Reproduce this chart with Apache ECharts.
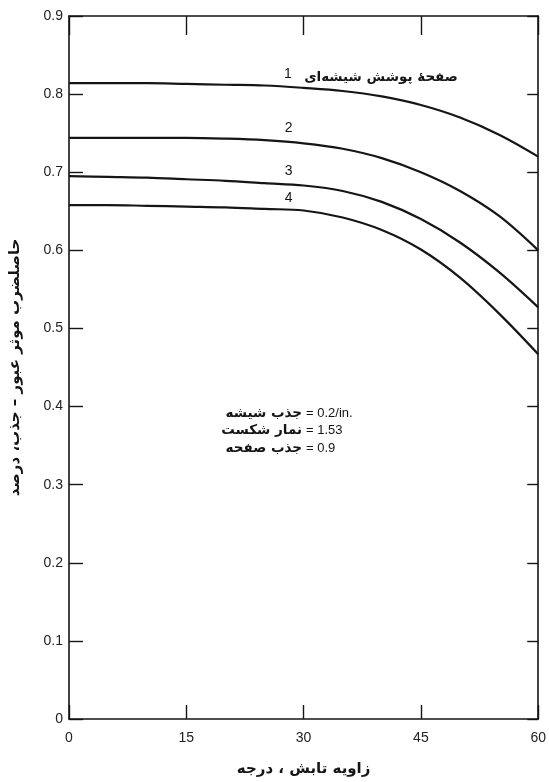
<!DOCTYPE html>
<html>
<head>
<meta charset="utf-8">
<script src="https://cdn.jsdelivr.net/npm/echarts@6/dist/echarts.min.js"></script>
<style>
html,body{margin:0;padding:0;background:#fff;}
#c{width:549px;height:782px;}
</style>
</head>
<body>
<div id="c"></div>
<script>
// ---- data ----
const angles = [0, 5, 10, 15, 20, 25, 30, 35, 40, 45, 50, 55, 60];
const cover1 = [0.814, 0.814, 0.814, 0.813, 0.812, 0.811, 0.808, 0.804, 0.797, 0.786, 0.770, 0.748, 0.720];
const cover2 = [0.744, 0.744, 0.744, 0.744, 0.743, 0.741, 0.737, 0.730, 0.718, 0.700, 0.676, 0.644, 0.600];
const cover3 = [0.695, 0.694, 0.693, 0.691, 0.689, 0.686, 0.683, 0.676, 0.662, 0.640, 0.610, 0.572, 0.527];
const cover4 = [0.658, 0.658, 0.657, 0.656, 0.655, 0.653, 0.651, 0.642, 0.626, 0.601, 0.565, 0.519, 0.467];
const seriesNames = ['1', '2', '3', '4'];
const coverTitle = 'صفحهٔ پوشش شیشه‌ای';
const xTitle = 'زاویه تابش ، درجه';
const yTitle = 'حاصلضرب موثر عبور – جذب، درصد';
const noteNames = ['جذب شیشه', 'نمار شکست', 'جذب صفحه'];
const noteValues = ['= 0.2/in.', '= 1.53', '= 0.9'];

const ink = '#151515';
const numFont = '"Liberation Sans", Arial, sans-serif';
const faFont = '"DejaVu Sans", sans-serif';

function pairs(vals){ return angles.map((a,i)=>[a, vals[i]]); }

const allVals = [cover1, cover2, cover3, cover4];
const labelCoords = [[28.0, 0.826], [28.1, 0.756], [28.1, 0.702], [28.1, 0.667]];

const series = allVals.map((vals, i) => ({
  type: 'line',
  name: seriesNames[i],
  data: pairs(vals),
  smooth: 0.35,
  showSymbol: false,
  symbol: 'none',
  lineStyle: {color: ink, width: 2.2},
  silent: true,
  markPoint: {
    silent: true,
    symbol: 'circle',
    symbolSize: 1,
    itemStyle: {color: 'rgba(0,0,0,0)'},
    label: {show: true, position: 'inside', formatter: p => p.name,
            color: ink, fontSize: 14, fontFamily: numFont},
    data: [{name: seriesNames[i], coord: labelCoords[i]}]
  }
}));
// cover title next to curve 1
series[0].markPoint.data.push({
  name: coverTitle, coord: [39.9, 0.821],
  label: {fontFamily: faFont, fontWeight: 'bold', fontSize: 13.5}
});

const chart = echarts.init(document.getElementById('c'), null, {renderer: 'canvas'});

const noteGraphics = [];
noteNames.forEach((n, i) => {
  const y = 413 + i * 17.5;
  noteGraphics.push({type:'text', x: 302, y: y,
    style:{text: n, textAlign:'right', textVerticalAlign:'middle', fill: ink,
           font: 'bold 13.5px ' + faFont}});
  noteGraphics.push({type:'text', x: 306, y: y,
    style:{text: noteValues[i], textAlign:'left', textVerticalAlign:'middle', fill: ink,
           font: '13px ' + numFont}});
});

chart.setOption({
  animation: false,
  backgroundColor: '#fff',
  grid: {left: 65, right: 6, top: 16, bottom: 60, containLabel: false},
  xAxis: [
    {type:'value', min:0, max:60, interval:15, position:'bottom',
     axisLine:{show:true, onZero:false, lineStyle:{color:ink, width:1.6}},
     axisTick:{show:true, inside:true, length:14, lineStyle:{color:ink, width:1.4}},
     axisLabel:{show:true, margin:12, fontSize:14, color:'#222', fontFamily:numFont},
     splitLine:{show:false},
     name: xTitle, nameLocation:'middle', nameGap:43,
     nameTextStyle:{fontFamily:faFont, fontWeight:'bold', fontSize:15, color:ink}},
    {type:'value', min:0, max:60, interval:15, position:'top',
     axisLine:{show:true, onZero:false, lineStyle:{color:ink, width:1.6}},
     axisTick:{show:true, inside:true, length:19, lineStyle:{color:ink, width:1.4}},
     axisLabel:{show:false}, splitLine:{show:false}}
  ],
  yAxis: [
    {type:'value', min:0, max:0.9, interval:0.1, position:'left',
     axisLine:{show:true, onZero:false, lineStyle:{color:ink, width:1.6}},
     axisTick:{show:true, inside:true, length:14, lineStyle:{color:ink, width:1.4}},
     axisLabel:{show:true, margin:6, fontSize:14, color:'#222', fontFamily:numFont,
                formatter: v => (Math.round(v*10)/10).toString()},
     splitLine:{show:false},
     name: yTitle, nameLocation:'middle', nameGap:46,
     nameTextStyle:{fontFamily:faFont, fontWeight:'bold', fontSize:15, color:ink}},
    {type:'value', min:0, max:0.9, interval:0.1, position:'right',
     axisLine:{show:true, onZero:false, lineStyle:{color:ink, width:1.6}},
     axisTick:{show:true, inside:true, length:11, lineStyle:{color:ink, width:1.4}},
     axisLabel:{show:false}, splitLine:{show:false}}
  ],
  series: series,
  graphic: noteGraphics
});
</script>
</body>
</html>
